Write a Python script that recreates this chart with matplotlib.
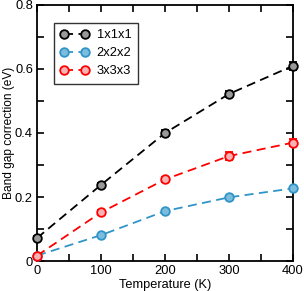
import numpy as np
import matplotlib.pyplot as plt
from matplotlib.lines import Line2D

plt.rcParams['font.family'] = ['Liberation Sans', 'DejaVu Sans']
plt.rcParams['font.size'] = 9.3

temps = [0, 100, 200, 300, 400]
gap_111 = [0.072, 0.238, 0.400, 0.522, 0.610]
gap_222 = [0.017, 0.081, 0.156, 0.199, 0.227]
gap_333 = [0.017, 0.152, 0.255, 0.328, 0.370]
err_111 = [0.005, 0.005, 0.008, 0.010, 0.012]
err_222 = [0.003, 0.004, 0.004, 0.005, 0.005]
err_333 = [0.004, 0.006, 0.008, 0.012, 0.012]
labels = ["1x1x1", "2x2x2", "3x3x3"]

fig = plt.figure(figsize=(3.04, 2.91), dpi=100)
ax = fig.add_axes([0.122, 0.103, 0.842, 0.880])

series = [
    (gap_111, err_111, "black", "#999999"),
    (gap_222, err_222, "#2f95c8", "#7cbcdc"),
    (gap_333, err_333, "red", "#f7b3b3"),
]
handles = []
for (y, e, c, fc), lab in zip(series, labels):
    ax.errorbar(temps, y, yerr=e, color=c, ls=(0, (5, 3)), lw=1.3,
                marker="o", ms=6.2, mfc=fc, mec=c, mew=1.3,
                capsize=3, elinewidth=1, clip_on=False, zorder=3)
    handles.append(Line2D([], [], color=c, ls=(0, (5, 3)), lw=1.3,
                          marker="o", ms=6.2, mfc=fc, mec=c, mew=1.3, label=lab))

ax.set_xlim(0, 400)
ax.set_ylim(0, 0.8)
ax.set_xticks([0, 100, 200, 300, 400])
ax.set_xticks([50, 150, 250, 350], minor=True)
ax.set_yticks([0, 0.2, 0.4, 0.6, 0.8])
ax.set_yticklabels(["0", "0.2", "0.4", "0.6", "0.8"])
ax.set_yticks([0.1, 0.3, 0.5, 0.7], minor=True)
ax.tick_params(which="both", direction="in", top=True, right=True, width=1.2)
ax.tick_params(which="major", length=5, labelsize=9.3, pad=3)
ax.tick_params(which="minor", length=5)
for s in ax.spines.values():
    s.set_linewidth(1.3)

ax.set_xlabel("Temperature (K)", fontsize=9.2, labelpad=1)
ax.set_ylabel("Band gap correction (eV)", fontsize=8.6, labelpad=0)

leg = ax.legend(handles=handles, loc="upper left", bbox_to_anchor=(0.066, 0.93),
                borderaxespad=0, numpoints=2, fancybox=False, edgecolor="black",
                handlelength=2.2, handletextpad=0.6, fontsize=9.3,
                borderpad=0.5, labelspacing=0.45)
leg.get_frame().set_linewidth(1.0)

fig.savefig("out.png", dpi=100)
